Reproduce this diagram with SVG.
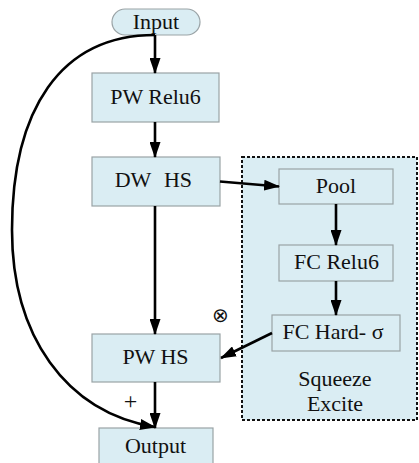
<svg xmlns="http://www.w3.org/2000/svg" width="419" height="463" viewBox="0 0 419 463">
  <style>
    .box { fill: #daedf3; stroke: #9aa3a6; stroke-width: 1.2; }
    .se { fill: #daedf3; stroke: #111; stroke-width: 2; stroke-dasharray: 3 2; }
    .wire { fill: none; stroke: #000; stroke-width: 2.6; marker-end: url(#arrow); }
  </style>
  <defs>
    <marker id="arrow" markerUnits="userSpaceOnUse" markerWidth="16" markerHeight="11" refX="15" refY="5.5" orient="auto">
      <path d="M0,0 L16,5.5 L0,11 z" fill="#000"/>
    </marker>
  </defs>

  <rect width="419" height="463" fill="#fff"/>

  <!-- squeeze-excite container -->
  <g id="squeeze-excite">
    <rect class="se" x="242" y="157" width="175" height="263"/>
    <text x="335" y="386" font-family="Liberation Serif" font-size="22" fill="#111" text-anchor="middle">Squeeze</text>
    <text x="335" y="411" font-family="Liberation Serif" font-size="22" fill="#111" text-anchor="middle">Excite</text>
  </g>

  <g id="input">
    <rect class="box" x="112" y="9" width="88" height="26" rx="13" ry="13"/>
    <text x="156" y="29" font-family="Liberation Serif" font-size="22" fill="#111" text-anchor="middle">Input</text>
  </g>

  <g id="pw-relu6">
    <rect class="box" x="92" y="73" width="127" height="49"/>
    <text x="155.5" y="104" font-family="Liberation Serif" font-size="22" fill="#111" text-anchor="middle">PW Relu6</text>
  </g>

  <g id="dw-hs">
    <rect class="box" x="92" y="157" width="128" height="49"/>
    <text x="133" y="187" font-family="Liberation Serif" font-size="22" fill="#111" text-anchor="middle">DW</text>
    <text x="178" y="187" font-family="Liberation Serif" font-size="22" fill="#111" text-anchor="middle">HS</text>
  </g>

  <g id="pool">
    <rect class="box" x="279" y="169" width="114" height="35"/>
    <text x="336" y="193" font-family="Liberation Serif" font-size="22" fill="#111" text-anchor="middle">Pool</text>
  </g>

  <g id="fc-relu6">
    <rect class="box" x="279" y="245" width="114" height="36"/>
    <text x="336.5" y="269" font-family="Liberation Serif" font-size="22" fill="#111" text-anchor="middle">FC Relu6</text>
  </g>

  <g id="fc-hard-sigma">
    <rect class="box" x="272" y="315" width="128" height="36"/>
    <text x="333" y="339" font-family="Liberation Serif" font-size="22" fill="#111" text-anchor="middle">FC Hard- σ</text>
  </g>

  <g id="pw-hs">
    <rect class="box" x="92" y="334" width="128" height="48"/>
    <text x="155.5" y="364" font-family="Liberation Serif" font-size="22" fill="#111" text-anchor="middle">PW HS</text>
  </g>

  <g id="output">
    <rect class="box" x="99" y="428" width="114" height="40"/>
    <text x="155.5" y="453" font-family="Liberation Serif" font-size="22" fill="#111" text-anchor="middle">Output</text>
  </g>

  <!-- operator symbols -->
  <text x="220" y="322" font-family="Liberation Serif" font-size="20" fill="#111" text-anchor="middle">⊗</text>
  <text x="130.5" y="409" font-family="Liberation Serif" font-size="24" fill="#111" text-anchor="middle">+</text>

  <!-- connectors -->
  <g id="connectors">
    <line class="wire" x1="155" y1="35" x2="155" y2="73"/>
    <line class="wire" x1="155" y1="122" x2="155" y2="157"/>
    <line class="wire" x1="155" y1="206" x2="155" y2="334"/>
    <line class="wire" x1="155" y1="382" x2="155" y2="428"/>
    <line class="wire" x1="220" y1="181.5" x2="279" y2="186.5"/>
    <line class="wire" x1="336" y1="204" x2="336" y2="245"/>
    <line class="wire" x1="336" y1="281" x2="336" y2="315"/>
    <line class="wire" x1="272" y1="333" x2="221" y2="358"/>
    <path class="wire" d="M155,35 C60,35 12,110 12,230 C12,335 65,412 155,427"/>
  </g>
</svg>
